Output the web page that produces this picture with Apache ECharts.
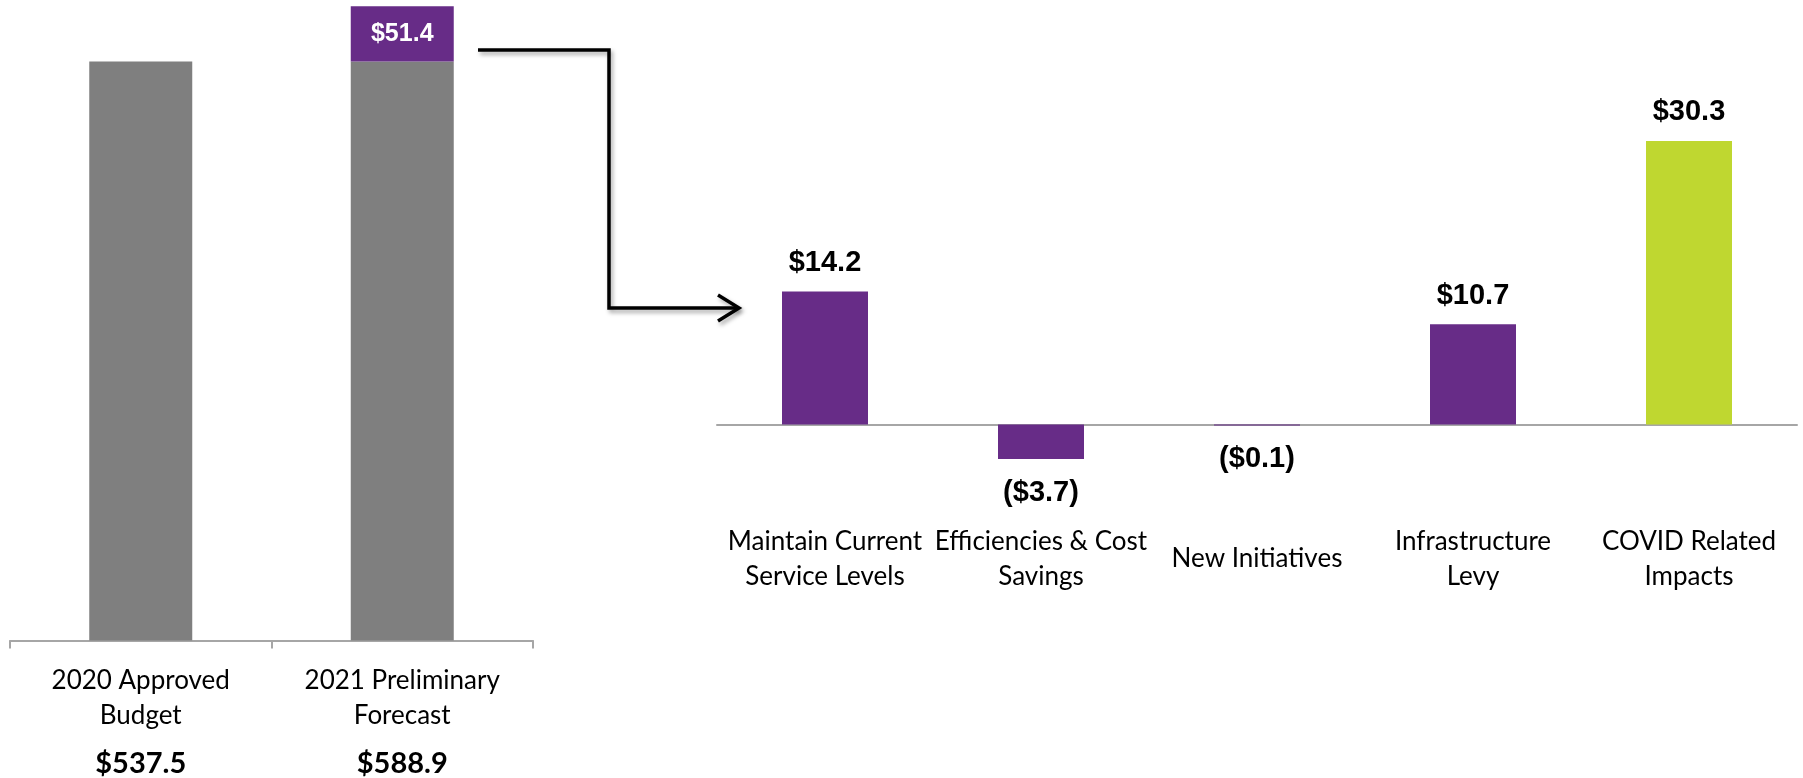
<!DOCTYPE html>
<html>
<head>
<meta charset="utf-8">
<script src="https://cdn.jsdelivr.net/npm/echarts@6/dist/echarts.min.js"></script>
<style>
html,body{margin:0;padding:0;background:#fff;}
#main{width:1803px;height:778px;}
</style>
</head>
<body>
<div id="main"></div>
<script>
// ---- data ----
const leftCategories = ['2020 Approved\nBudget', '2021 Preliminary\nForecast'];
const leftBase = [537.5, 537.5];
const leftIncrease = [null, 51.4];
const leftTotals = [537.5, 588.9];

const rightCategories = ['Maintain Current\nService Levels', 'Efficiencies & Cost\nSavings', 'New Initiatives', 'Infrastructure\nLevy', 'COVID Related\nImpacts'];
const rightValues = [14.2, -3.7, -0.1, 10.7, 30.3];

// ---- styles ----
const GRAY = '#7f7f7f';
const PURPLE = '#672c87';
const GREEN = '#bfd730';
const AXIS = '#a6a6a6';
const LABEL_FONT = 'Lato, "Open Sans", sans-serif';
const VALUE_FONT = '"Liberation Sans", Arial, sans-serif';

function money(v) {
  return v < 0 ? '($' + Math.abs(v).toFixed(1) + ')' : '$' + v.toFixed(1);
}

const chart = echarts.init(document.getElementById('main'), null, {renderer: 'canvas'});

const rightData = rightValues.map((v, i) => ({
  value: v,
  itemStyle: {color: i === rightValues.length - 1 ? GREEN : PURPLE},
  label: v < 0 ? {position: 'bottom', distance: 19} : {position: 'top', distance: 14}
}));

chart.setOption({
  animation: false,
  backgroundColor: '#ffffff',
  grid: [
    {left: 10, top: 5, width: 523, height: 637, containLabel: false},
    {left: 717, top: 97, width: 1080, height: 421, containLabel: false}
  ],
  xAxis: [
    {
      type: 'category', gridIndex: 0, data: leftCategories,
      axisLine: {lineStyle: {color: AXIS, width: 2}},
      axisTick: {show: true, length: 8, lineStyle: {color: AXIS, width: 2}},
      axisLabel: {
        margin: 23,
        interval: 0,
        verticalAlign: 'top',
        formatter: function (val, idx) {
          const lines = val.split('\n').map(s => '{a|' + s + '}');
          return lines.join('\n') + '\n{b|' + money(leftTotals[idx]) + '}';
        },
        rich: {
          a: {fontFamily: LABEL_FONT, fontSize: 26, color: '#000', lineHeight: 35},
          b: {fontFamily: LABEL_FONT, fontSize: 29, fontWeight: 'bold', color: '#000', lineHeight: 60}
        }
      }
    },
    {
      type: 'category', gridIndex: 1, data: rightCategories,
      axisLine: {onZero: true, lineStyle: {color: AXIS, width: 2}},
      axisTick: {show: false},
      axisLabel: {
        interval: 0,
        margin: 41,
        verticalAlign: 'middle',
        fontFamily: LABEL_FONT, fontSize: 26, color: '#000', lineHeight: 35
      }
    }
  ],
  yAxis: [
    {type: 'value', gridIndex: 0, min: 0, max: 590, show: false, splitLine: {show: false}},
    {type: 'value', gridIndex: 1, min: -10, max: 35, show: false, splitLine: {show: false}}
  ],
  series: [
    {
      type: 'bar', xAxisIndex: 0, yAxisIndex: 0, stack: 'left',
      data: leftBase, barWidth: 103,
      itemStyle: {color: GRAY}
    },
    {
      type: 'bar', xAxisIndex: 0, yAxisIndex: 0, stack: 'left',
      data: leftIncrease, barWidth: 103,
      itemStyle: {color: PURPLE},
      label: {
        show: true, position: 'inside', color: '#fff',
        fontFamily: VALUE_FONT, fontWeight: 'bold', fontSize: 25,
        formatter: p => money(p.value)
      }
    },
    {
      type: 'bar', xAxisIndex: 1, yAxisIndex: 1,
      data: rightData, barWidth: 86,
      label: {
        show: true, color: '#000',
        fontFamily: VALUE_FONT, fontWeight: 'bold', fontSize: 29,
        formatter: p => money(p.value)
      }
    }
  ],
  graphic: [
    {
      type: 'polyline',
      shape: {points: [[478, 50], [609, 50], [609, 308], [738, 308]]},
      style: {stroke: '#000', lineWidth: 3.5, fill: null,
        shadowBlur: 4, shadowColor: 'rgba(0,0,0,0.35)', shadowOffsetX: 2, shadowOffsetY: 3}
    },
    {
      type: 'polyline',
      shape: {points: [[718, 295], [739, 308], [718, 321]]},
      style: {stroke: '#000', lineWidth: 3.5, fill: null, lineJoin: 'miter',
        shadowBlur: 4, shadowColor: 'rgba(0,0,0,0.35)', shadowOffsetX: 2, shadowOffsetY: 3}
    }
  ]
});
</script>
</body>
</html>
